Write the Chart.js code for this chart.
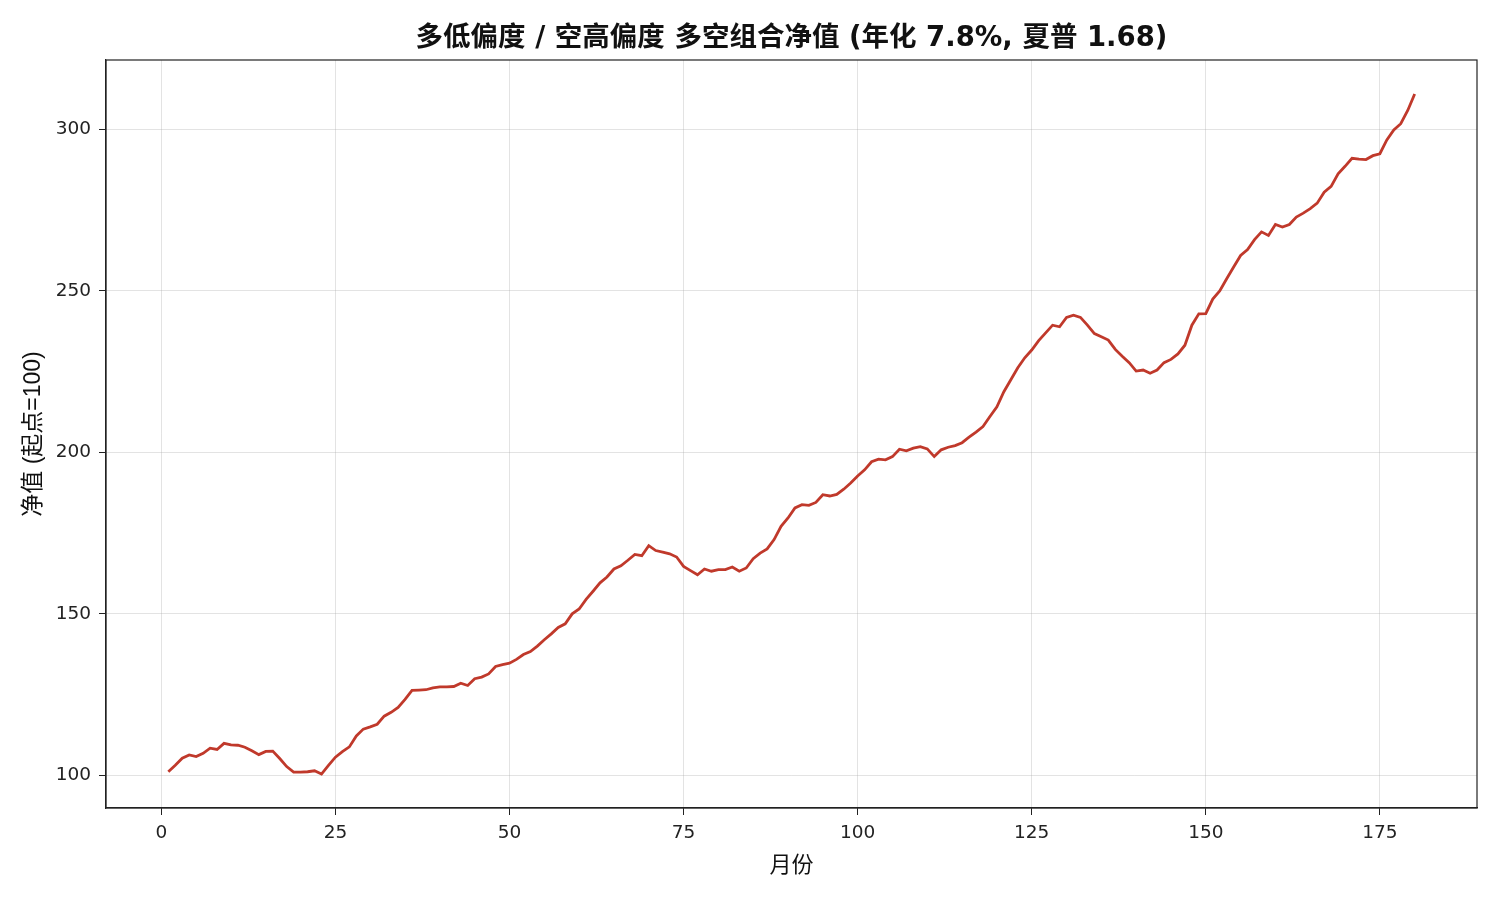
<!DOCTYPE html>
<html>
<head>
<meta charset="utf-8">
<script src="https://cdn.jsdelivr.net/npm/chart.js@4.4.1/dist/chart.umd.min.js"></script>
<style>
html,body{margin:0;padding:0;background:#fff;}
#wrap{width:1500px;height:900px;}
</style>
</head>
<body>
<div id="wrap"><canvas id="c" width="1500" height="900"></canvas></div>
<script>
const titleText = "多低偏度 / 空高偏度 多空组合净值 (年化 7.8%, 夏普 1.68)";
const xTitle = "月份";
const yTitle = "净值 (起点=100)";
const xTicks = [0, 25, 50, 75, 100, 125, 150, 175];
const yTicks = [100, 150, 200, 250, 300];
const months = Array.from({length: 180}, (_, i) => i + 1);
const navValues = [
101.1,103.1,105.3,106.3,105.8,106.8,108.4,108.0,109.9,109.4,
109.3,108.7,107.6,106.4,107.4,107.5,105.2,102.7,101.0,101.0,
101.1,101.4,100.4,103.1,105.6,107.3,108.8,112.2,114.3,115.0,
115.8,118.3,119.5,121.0,123.5,126.3,126.4,126.5,127.1,127.4,
127.4,127.5,128.5,127.8,129.9,130.4,131.4,133.7,134.3,134.7,
135.9,137.4,138.3,140.0,142.0,143.8,145.8,146.9,150.0,151.5,
154.5,157.0,159.6,161.4,163.9,164.9,166.6,168.4,168.0,171.1,
169.6,169.1,168.6,167.6,164.7,163.4,162.1,163.9,163.2,163.7,
163.7,164.5,163.2,164.2,167.1,168.8,170.1,173.0,177.1,179.7,
182.8,183.8,183.6,184.5,186.9,186.5,187.0,188.6,190.5,192.7,
194.6,197.1,197.9,197.7,198.7,201.0,200.5,201.3,201.8,201.1,
198.7,200.8,201.6,202.1,203.0,204.7,206.3,208.0,211.1,214.1,
218.8,222.5,226.2,229.3,231.7,234.6,237.0,239.4,238.9,241.8,
242.5,241.8,239.4,236.8,235.8,234.8,231.9,229.8,227.8,225.2,
225.5,224.5,225.5,227.8,228.8,230.5,233.2,239.4,242.9,243.0,
247.5,250.0,253.8,257.4,261.0,262.8,265.9,268.3,267.2,270.6,
269.8,270.6,272.9,274.1,275.5,277.2,280.6,282.4,286.3,288.6,
291.1,290.8,290.7,291.9,292.5,296.8,299.9,301.8,305.9,311.0
];

const FONT_TITLE = "'DejaVu Sans', 'Noto Sans CJK SC', sans-serif";
const FONT_TICK = "'DejaVu Sans', 'Noto Sans CJK SC', sans-serif";
const FONT_LABEL = "'Liberation Sans', 'Noto Sans CJK SC', sans-serif";
const points = months.map((m, i) => ({x: m, y: navValues[i]}));

const xMin = months[0] - 0.05 * (months[months.length-1] - months[0]);
const xMax = months[months.length-1] + 0.05 * (months[months.length-1] - months[0]);
const yLo = Math.min(...navValues), yHi = Math.max(...navValues);
const yMin = yLo - 0.05 * (yHi - yLo);
const yMax = yHi + 0.05 * (yHi - yLo);

const frame = {
  id: 'frame',
  afterDraw(chart) {
    const a = chart.chartArea, ctx = chart.ctx;
    ctx.save();
    ctx.strokeStyle = '#222';
    ctx.lineWidth = 1.2;
    ctx.strokeRect(a.left, a.top, a.right - a.left, a.bottom - a.top);
    ctx.restore();
  }
};

new Chart(document.getElementById('c'), {
  type: 'line',
  data: {
    datasets: [{
      data: points,
      borderColor: '#c0392b',
      borderWidth: 2.8,
      pointRadius: 0,
      tension: 0,
      fill: false
    }]
  },
  options: {
    responsive: false,
    animation: false,
    devicePixelRatio: 1,
    layout: {padding: {left: 0, right: 23, top: 0, bottom: 0}},
    plugins: {
      legend: {display: false},
      tooltip: {enabled: false},
      title: {
        display: true,
        fullSize: false,
        text: titleText,
        color: '#111',
        font: {family: FONT_TITLE, size: 27.5, weight: 'bold'},
        padding: {top: 22, bottom: 5}
      }
    },
    scales: {
      x: {
        type: 'linear',
        min: xMin, max: xMax,
        afterBuildTicks(s) { s.ticks = xTicks.map(v => ({value: v})); },
        afterFit(s) { s.height = 92; },
        ticks: {color: '#222', font: {family: FONT_TICK, size: 18.5}, padding: 7, maxRotation: 0,
                callback: v => String(v)},
        grid: {color: 'rgba(176,176,176,0.35)', lineWidth: 1, tickLength: 7, tickColor: '#222', drawTicks: true},
        border: {display: true, color: '#222', width: 1.2},
        title: {display: true, text: xTitle, color: '#111', font: {family: FONT_LABEL, size: 22}, padding: {top: 2, bottom: 21}}
      },
      y: {
        type: 'linear',
        min: yMin, max: yMax,
        afterBuildTicks(s) { s.ticks = yTicks.map(v => ({value: v})); },
        afterFit(s) { s.width = 106; },
        ticks: {color: '#222', font: {family: FONT_TICK, size: 18.5}, padding: 8,
                callback: v => String(v)},
        grid: {color: 'rgba(176,176,176,0.35)', lineWidth: 1, tickLength: 7, tickColor: '#222', drawTicks: true},
        border: {display: true, color: '#222', width: 1.2},
        title: {display: true, text: yTitle, color: '#111', font: {family: FONT_LABEL, size: 23}, padding: {top: 20, bottom: 0}}
      }
    }
  },
  plugins: [frame]
});
</script>
</body>
</html>
